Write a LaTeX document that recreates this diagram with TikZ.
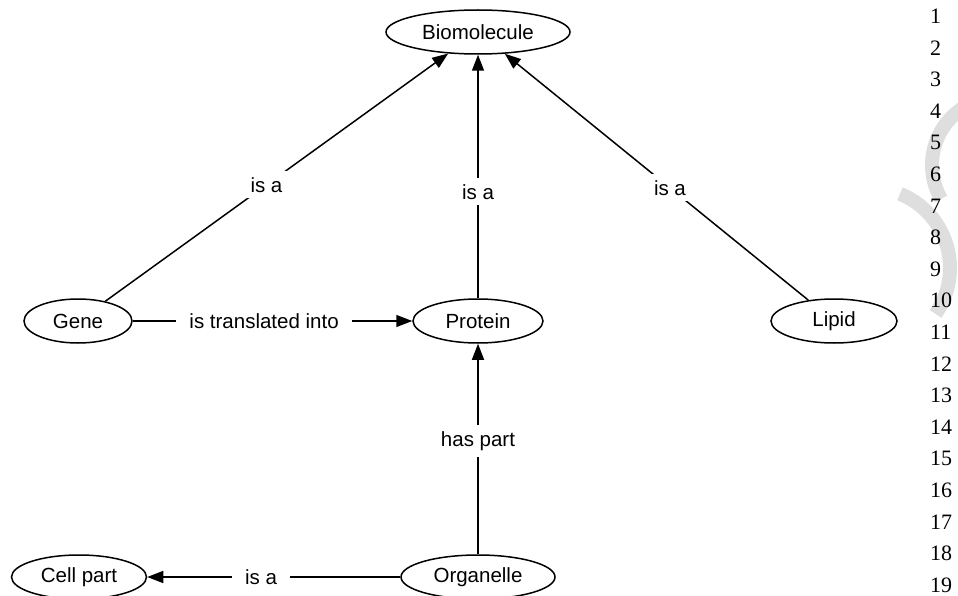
\documentclass[tikz,border=0pt]{standalone}
\usepackage{fontspec}
\setmainfont{Liberation Sans}
\newfontfamily\numfont{Liberation Serif}
\usetikzlibrary{arrows.meta,shapes.geometric}
\begin{document}
\begin{tikzpicture}[x=1pt,y=-1pt,
  concept/.style={draw, ellipse, line width=1.5pt, minimum height=44pt, inner sep=0pt, font=\fontsize{20.5}{24}\selectfont},
  rel/.style={line width=1.5pt, -{Triangle[length=16pt,width=12pt]}},
  lbl/.style={fill=white, inner xsep=13pt, inner ysep=6pt, font=\fontsize{20.5}{24}\selectfont},
  lnum/.style={anchor=base west, inner sep=0pt, font=\numfont\fontsize{22}{24}\selectfont},
  wm/.style={black!13, line width=14pt}]
\useasboundingbox (0,0) rectangle (958,596);
\begin{scope}
  \clip (0,0) rectangle (958,596);
  \draw[wm] plot[domain=150:250, samples=40] ({1000+68*cos(\x)},{165+68*sin(\x)});
  \draw[wm] plot[domain=-68:35, samples=40] ({870+80*cos(\x)},{268+80*sin(\x)});
\end{scope}
\foreach \i in {1,...,19} \node[lnum] (n\i) at (930, {23.5+(\i-1)*31.6}) {\i};

\node[concept, minimum width=184pt] (bio) at (478,32) {Biomolecule};
\node[concept, minimum width=108pt] (gene) at (78,321) {Gene};
\node[concept, minimum width=130pt] (prot) at (478,321) {Protein};
\node[concept, minimum width=126pt] (lipid) at (834,321) {Lipid};
\node[concept, minimum width=135pt] (cell) at (79,577) {Cell part};
\node[concept, minimum width=154pt] (org) at (478,577) {Organelle};

\draw[rel] (gene) -- node[lbl, pos=0.47] {is a} (bio);
\draw[rel] (prot) -- node[lbl, pos=0.437] {is a} (bio);
\draw[rel] (lipid) -- node[lbl, pos=0.456] {is a} (bio);
\draw[rel] (gene) -- node[lbl, pos=0.47] {is translated into} (prot);
\draw[rel] (org) -- node[lbl, pos=0.538] {has part} (prot);
\draw[rel] (org) -- node[lbl, pos=0.55] {is a} (cell);
\end{tikzpicture}
\end{document}
